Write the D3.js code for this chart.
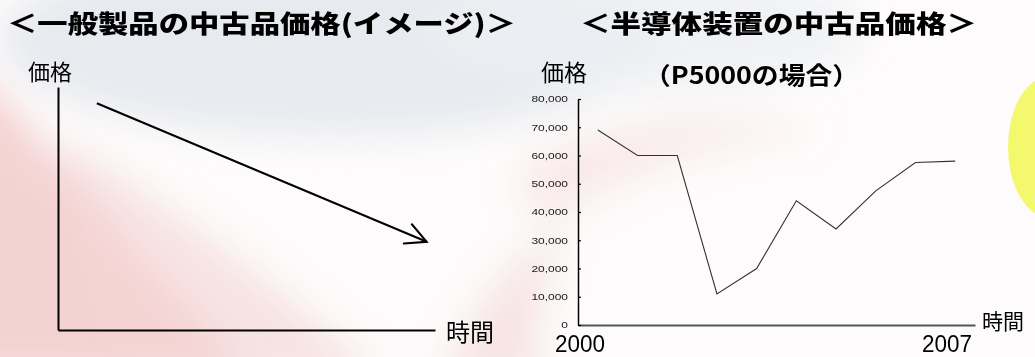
<!DOCTYPE html>
<html lang="ja">
<head>
<meta charset="utf-8">
<script src="https://cdn.jsdelivr.net/npm/d3@7/dist/d3.min.js"></script>
<style>
  html, body { margin: 0; padding: 0; background: #ffffff; }
  svg { display: block; }
  .jp { font-family: "Noto Sans CJK JP", "Noto Sans", sans-serif; }
  .num { font-family: "Liberation Sans", Arial, sans-serif; }
</style>
</head>
<body>
<svg id="chart" width="1035" height="357"></svg>
<script>
// ---- data ----
const periods = ["p1", "p2", "p3", "p4", "p5", "p6", "p7", "p8", "p9", "p10"];
const prices = [69000, 60000, 60000, 11000, 20000, 44000, 34000, 47500, 57500, 58000];
const yearLabels = ["2000", "2007"];
const priceTicks = [0, 10000, 20000, 30000, 40000, 50000, 60000, 70000, 80000];

// schematic "general product" curve: relative time vs relative price
const conceptTime = [0.103, 0.978];
const conceptPrice = [0.933, 0.363];

const titleLeft = "＜一般製品の中古品価格(イメージ)＞";
const titleRight = "＜半導体装置の中古品価格＞";
const subtitleRight = "（P5000の場合）";
const axisPrice = "価格";
const axisTime = "時間";

const W = 1035, H = 357;
const svg = d3.select("#chart");
const defs = svg.append("defs");

// ---- soft decorative background ----
const blur = defs.append("filter").attr("id", "soft")
  .attr("x", "-50%").attr("y", "-50%").attr("width", "200%").attr("height", "200%");
blur.append("feGaussianBlur").attr("stdDeviation", 18);

const bg = svg.append("g").attr("class", "background");
bg.append("rect").attr("width", W).attr("height", H).attr("fill", "#fdfbfb");
const bgShapes = bg.append("g").attr("filter", "url(#soft)");
bgShapes.append("ellipse").attr("cx", 330).attr("cy", 40).attr("rx", 330).attr("ry", 95)
  .attr("fill", "#e4e8ed").attr("opacity", 0.9);
bgShapes.append("ellipse").attr("cx", 640).attr("cy", 30).attr("rx", 220).attr("ry", 60)
  .attr("fill", "#eceff2").attr("opacity", 0.8);
bgShapes.append("path")
  .attr("d", "M-40,60 C40,120 120,260 260,380 L-40,380 Z")
  .attr("fill", "#f1c4c4").attr("opacity", 0.75);
bgShapes.append("path")
  .attr("d", "M60,140 C160,200 300,300 380,380 L120,380 C100,300 80,220 60,140 Z")
  .attr("fill", "#f3d2d2").attr("opacity", 0.6);
bgShapes.append("path")
  .attr("d", "M520,170 C600,120 700,110 820,130 C720,140 620,170 540,230 Z")
  .attr("fill", "#f6dede").attr("opacity", 0.6);
bgShapes.append("path")
  .attr("d", "M440,380 C480,300 520,250 560,230 C540,290 530,340 540,380 Z")
  .attr("fill", "#f4d4d4").attr("opacity", 0.6);
bg.append("ellipse").attr("cx", 1050).attr("cy", 147).attr("rx", 42).attr("ry", 71)
  .attr("fill", "#f3f86c");

// helper: horizontally stretched text
function stretchText(sel, width) {
  sel.attr("textLength", width).attr("lengthAdjust", "spacingAndGlyphs");
}

// ---- titles ----
svg.append("text").attr("class", "jp")
  .attr("x", 7).attr("y", 33)
  .attr("font-size", 25).attr("font-weight", 900).attr("fill", "#000")
  .text(titleLeft).call(stretchText, 509);

svg.append("text").attr("class", "jp")
  .attr("x", 580).attr("y", 33)
  .attr("font-size", 25).attr("font-weight", 900).attr("fill", "#000")
  .text(titleRight).call(stretchText, 397);

svg.append("text").attr("class", "jp")
  .attr("x", 644).attr("y", 84)
  .attr("font-size", 24).attr("font-weight", 700).attr("fill", "#000")
  .text(subtitleRight).call(stretchText, 215);

// ---- left: schematic chart ----
const xL = d3.scaleLinear().domain([0, 1]).range([58, 435]);
const yL = d3.scaleLinear().domain([0, 1]).range([330, 87]);

const left = svg.append("g").attr("class", "schematic");
left.append("g").attr("transform", `translate(${xL(0)},0)`)
  .call(d3.axisLeft(yL).ticks(0).tickSizeOuter(0))
  .call(g => g.select(".domain").attr("stroke", "#000").attr("stroke-width", 2));
left.append("g").attr("transform", `translate(0,${yL(0)})`)
  .call(d3.axisBottom(xL).ticks(0).tickSizeOuter(0))
  .call(g => g.select(".domain").attr("stroke", "#000").attr("stroke-width", 2));

defs.append("marker").attr("id", "arrow")
  .attr("markerUnits", "userSpaceOnUse")
  .attr("viewBox", "-24 -12 26 24").attr("refX", 0).attr("refY", 0)
  .attr("markerWidth", 26).attr("markerHeight", 24).attr("orient", "auto")
  .append("path").attr("d", "M-20.5,-10.4 L0,0 L-20.5,10.4")
  .attr("fill", "none").attr("stroke", "#000").attr("stroke-width", 2)
  .attr("stroke-linecap", "round");

const conceptPts = conceptTime.map((t, i) => [t, conceptPrice[i]]);
left.append("path").datum(conceptPts)
  .attr("d", d3.line().x(d => xL(d[0])).y(d => yL(d[1])))
  .attr("fill", "none").attr("stroke", "#000").attr("stroke-width", 2)
  .attr("marker-end", "url(#arrow)");

left.append("text").attr("class", "jp")
  .attr("x", 28).attr("y", 80).attr("font-size", 22).attr("fill", "#000")
  .text(axisPrice);
left.append("text").attr("class", "jp")
  .attr("x", 446).attr("y", 341).attr("font-size", 24).attr("fill", "#000")
  .text(axisTime);

// ---- right: P5000 price history ----
const x = d3.scaleBand().domain(periods).range([578, 975]);
const y = d3.scaleLinear().domain([0, 80000]).range([325, 99]);

const right = svg.append("g").attr("class", "p5000");

right.append("g").attr("transform", `translate(0,${y(0)})`)
  .call(d3.axisBottom(x).tickSize(0).tickFormat(""))
  .call(g => g.select(".domain").attr("stroke", "#555").attr("stroke-width", 2));

const yAxis = right.append("g").attr("transform", `translate(${x.range()[0]},0)`)
  .call(d3.axisLeft(y).tickValues(priceTicks).tickFormat(d3.format(","))
    .tickSizeInner(-3).tickSizeOuter(0).tickPadding(10));
yAxis.select(".domain").attr("stroke", "#000").attr("stroke-width", 1.5);
yAxis.selectAll(".tick line").attr("stroke", "#000").attr("stroke-width", 1.2);
yAxis.selectAll(".tick text")
  .attr("class", "num").attr("font-size", 8.8).attr("fill", "#1a1a1a")
  .each(function () {
    const w = this.getComputedTextLength();
    d3.select(this).attr("textLength", w * 1.36).attr("lengthAdjust", "spacingAndGlyphs");
  });

right.append("path").datum(prices)
  .attr("d", d3.line().x((d, i) => x(periods[i]) + x.bandwidth() / 2).y(d => y(d)))
  .attr("fill", "none").attr("stroke", "#333").attr("stroke-width", 1.1);

right.append("text").attr("class", "num")
  .attr("x", x.range()[0] + 2).attr("y", 352).attr("text-anchor", "middle")
  .attr("font-size", 23).attr("fill", "#000")
  .text(yearLabels[0]).call(stretchText, 50);
right.append("text").attr("class", "num")
  .attr("x", x.range()[1] - 53).attr("y", 352)
  .attr("font-size", 23).attr("fill", "#000")
  .text(yearLabels[1]).call(stretchText, 50);

right.append("text").attr("class", "jp")
  .attr("x", 541).attr("y", 81).attr("font-size", 23).attr("fill", "#000")
  .text(axisPrice);
right.append("text").attr("class", "jp")
  .attr("x", 982).attr("y", 329).attr("font-size", 21).attr("fill", "#000")
  .text(axisTime);
</script>
</body>
</html>
